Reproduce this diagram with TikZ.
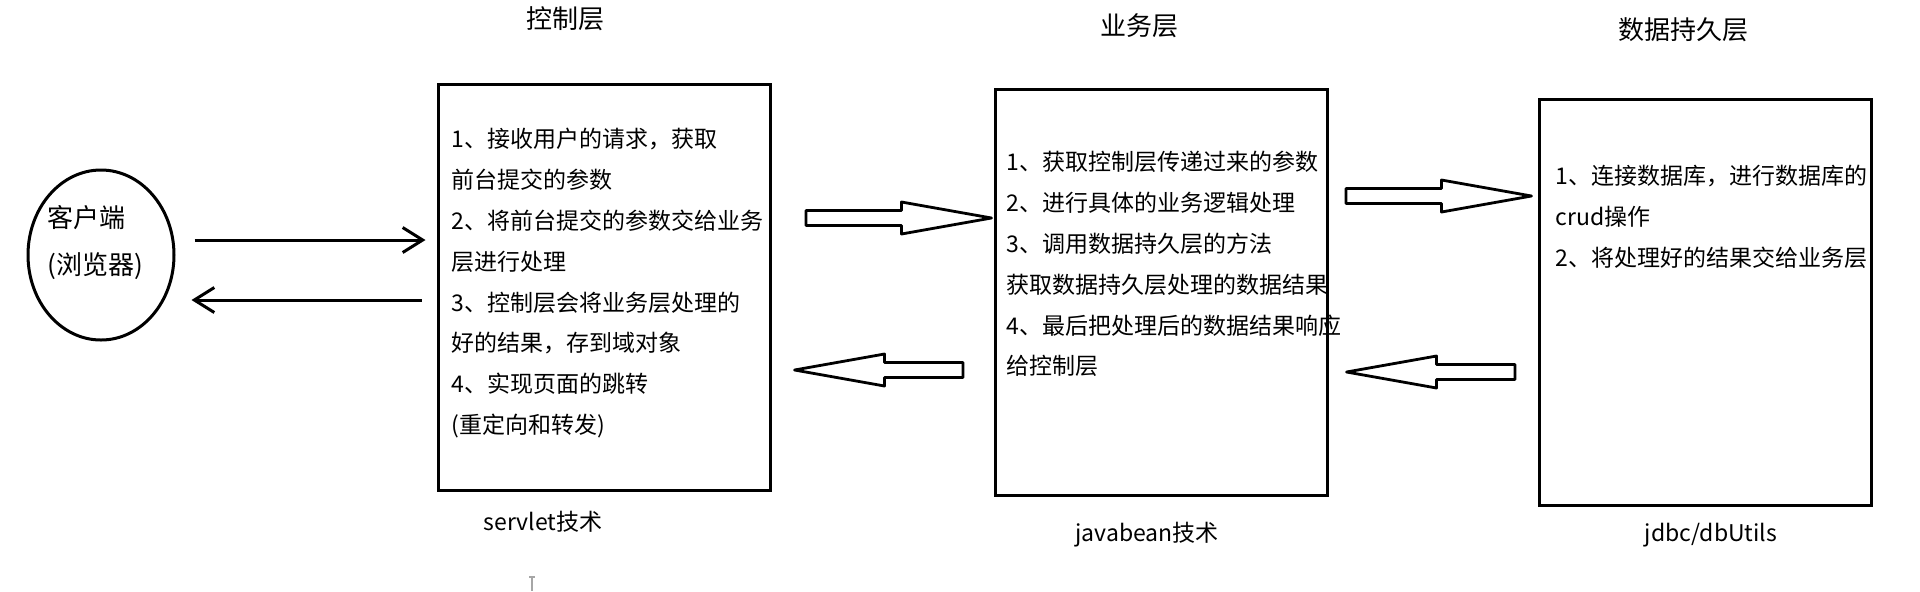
\documentclass[tikz,border=0pt]{standalone}
\usepackage{fontspec}
\setmainfont{Noto Sans CJK SC}
\usetikzlibrary{shapes.geometric,arrows.meta,positioning,calc}

% hollow block arrow from tail #1 to tip #2
\newcommand\hollowarrow[2]{%
  \path ($#2!45pt!#1$) coordinate (hb);
  \draw[block] ($#1!3.75pt!90:#2$) -- ($(hb)!3.75pt!90:#2$) -- ($(hb)!8pt!90:#2$) -- #2
    -- ($(hb)!8pt!-90:#2$) -- ($(hb)!3.75pt!-90:#2$) -- ($#1!3.75pt!-90:#2$) -- cycle;}

\begin{document}
\begin{tikzpicture}[
  x=0.5pt, y=-0.5pt,
  every node/.style={font=\fontsize{11.5pt}{20.4pt}\selectfont},
  layerbox/.style={rectangle, draw=black, line width=1.5pt, minimum width=166pt,
                   minimum height=203pt, inner sep=0pt},
  clientshape/.style={ellipse, draw=black, line width=1.5pt, minimum width=73pt,
                      minimum height=85pt, inner sep=0pt},
  layername/.style={font=\fontsize{13pt}{15pt}\selectfont},
  note/.style={align=left, inner sep=0pt, anchor=north west},
  flow/.style={-{Straight Barb[length=10pt,width=12.5pt]}, line width=1.5pt},
  block/.style={draw=black, fill=white, line width=1.4pt, line join=round}
]
  \path[use as bounding box, fill=white] (0,0) rectangle (1920,591);

  \node[clientshape] (client) at (101,255) {};
  \node[align=left, inner sep=0pt, anchor=west, font=\fontsize{13pt}{23.5pt}\selectfont]
    (clienttxt) at (47,242) {客户端\\(浏览器)};

  \node[layerbox] (ctl) at (604,287)   {};
  \node[layerbox] (svc) at (1161,292.5) {};
  \node[layerbox] (dao) at (1705,302)  {};

  \node[layername] (ctlname) at (565,19)  {控制层};
  \node[layername] (svcname) at (1139,26) {业务层};
  \node[layername] (daoname) at (1683,30) {数据持久层};

  \node[note] (ctltxt) at (451,128) {1、接收用户的请求，获取\\前台提交的参数\\2、将前台提交的参数交给业务\\层进行处理\\3、控制层会将业务层处理的\\好的结果，存到域对象\\4、实现页面的跳转\\(重定向和转发)};
  \node[note] (svctxt) at (1006,151) {1、获取控制层传递过来的参数\\2、进行具体的业务逻辑处理\\3、调用数据持久层的方法\\获取数据持久层处理的数据结果\\4、最后把处理后的数据结果响应\\给控制层};
  \node[note] (daotxt) at (1555,165) {1、连接数据库，进行数据库的\\crud操作\\2、将处理好的结果交给业务层};

  \node (ctltech) at (543,522)  {servlet技术};
  \node (svctech) at (1147,535) {javabean技术};
  \node (daotech) at (1711,535) {jdbc/dbUtils};

  % request / response
  \coordinate (up) at ([yshift=7.5pt]client.east);
  \coordinate (dn) at ([yshift=-22.5pt]client.east);
  \draw[flow, shorten <=9.5pt, shorten >=5.5pt] (up) -- (up -| ctl.west);
  \draw[flow, shorten <=7.5pt, shorten >=8pt] (dn -| ctl.west) -- (dn);

  % hollow arrows between the layers
  \coordinate (r1) at (806,218);
  \coordinate (r1tip) at ($(svc.west |- r1)+(-2,0)$);
  \hollowarrow{(r1)}{(r1tip)}
  \coordinate (r2) at (1346,196);
  \coordinate (r2tip) at ($(dao.west |- r2)+(-6,0)$);
  \hollowarrow{(r2)}{(r2tip)}
  \coordinate (l1) at (963,370);
  \coordinate (l1tip) at ($(ctl.east |- l1)+(23,0)$);
  \hollowarrow{(l1)}{(l1tip)}
  \coordinate (l2) at (1515,372);
  \coordinate (l2tip) at ($(svc.east |- l2)+(18,0)$);
  \hollowarrow{(l2)}{(l2tip)}

  \draw[gray!70, line width=0.6pt] (529,577) -- (535,577) (532,577) -- (532,591);
\end{tikzpicture}
\end{document}
